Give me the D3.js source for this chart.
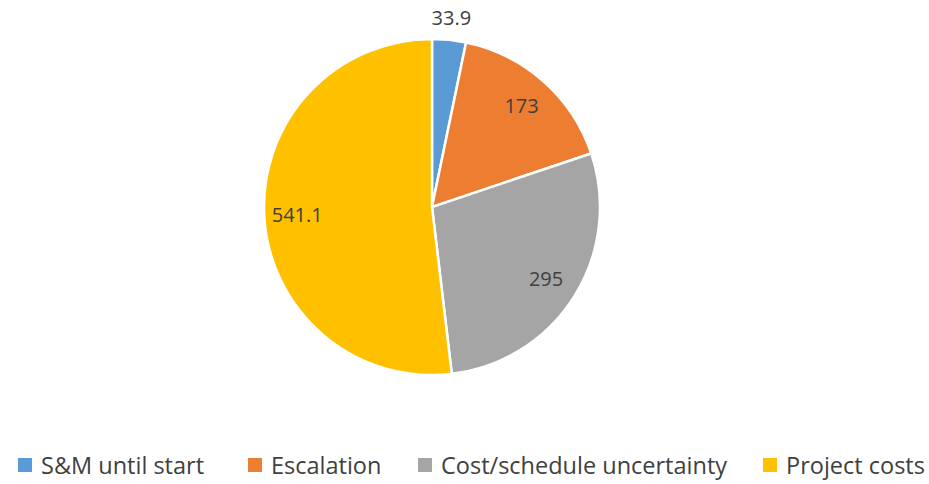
<!DOCTYPE html>
<html>
<head>
<meta charset="utf-8">
<script src="https://cdn.jsdelivr.net/npm/d3@7"></script>
<style>
  body { margin: 0; background: #fff; }
  text { font-family: "Open Sans", "Liberation Sans", sans-serif; fill: #404040; }
</style>
</head>
<body>
<div id="chart"></div>
<script>
var categories = ["S&M until start", "Escalation", "Cost/schedule uncertainty", "Project costs"];
var values = [33.9, 173, 295, 541.1];
var labels = ["33.9", "173", "295", "541.1"];
var colors = ["#5b9bd5", "#ed7d31", "#a5a5a5", "#ffc000"];

var width = 929, height = 484;
var cx = 432, cy = 207, radius = 168;

var svg = d3.select("#chart").append("svg")
    .attr("width", width)
    .attr("height", height);

var data = values.map(function (v, i) {
    return { name: categories[i], value: v, label: labels[i], color: colors[i] };
});

var pie = d3.pie().sort(null).value(function (d) { return d.value; });
var arcs = pie(data);

var arc = d3.arc().innerRadius(0).outerRadius(radius);
var labelArc = d3.arc().innerRadius(135).outerRadius(135);
var outerArc = d3.arc().innerRadius(190).outerRadius(190);

var g = svg.append("g").attr("transform", "translate(" + cx + "," + cy + ")");

g.selectAll("path")
    .data(arcs)
    .enter()
    .append("path")
    .attr("d", arc)
    .attr("fill", function (d) { return d.data.color; })
    .attr("stroke", "#fff")
    .attr("stroke-width", 2.5);

g.selectAll("text.lbl")
    .data(arcs)
    .enter()
    .append("text")
    .attr("class", "lbl")
    .attr("transform", function (d, i) {
        var p = (i === 0 ? outerArc : labelArc).centroid(d);
        return "translate(" + p[0] + "," + p[1] + ")";
    })
    .attr("text-anchor", "middle")
    .attr("dy", "0.35em")
    .style("font-size", "20px")
    .text(function (d) { return d.data.label; });

// legend
var legendX = [18, 248, 418, 763];
var legend = svg.selectAll("g.legend")
    .data(data)
    .enter()
    .append("g")
    .attr("class", "legend")
    .attr("transform", function (d, i) { return "translate(" + legendX[i] + ",458)"; });

legend.append("rect")
    .attr("width", 14)
    .attr("height", 14)
    .attr("fill", function (d) { return d.color; });

legend.append("text")
    .attr("x", 23)
    .attr("y", 8)
    .attr("dy", "0.35em")
    .style("font-size", "23.5px")
    .text(function (d) { return d.name; });
</script>
</body>
</html>
